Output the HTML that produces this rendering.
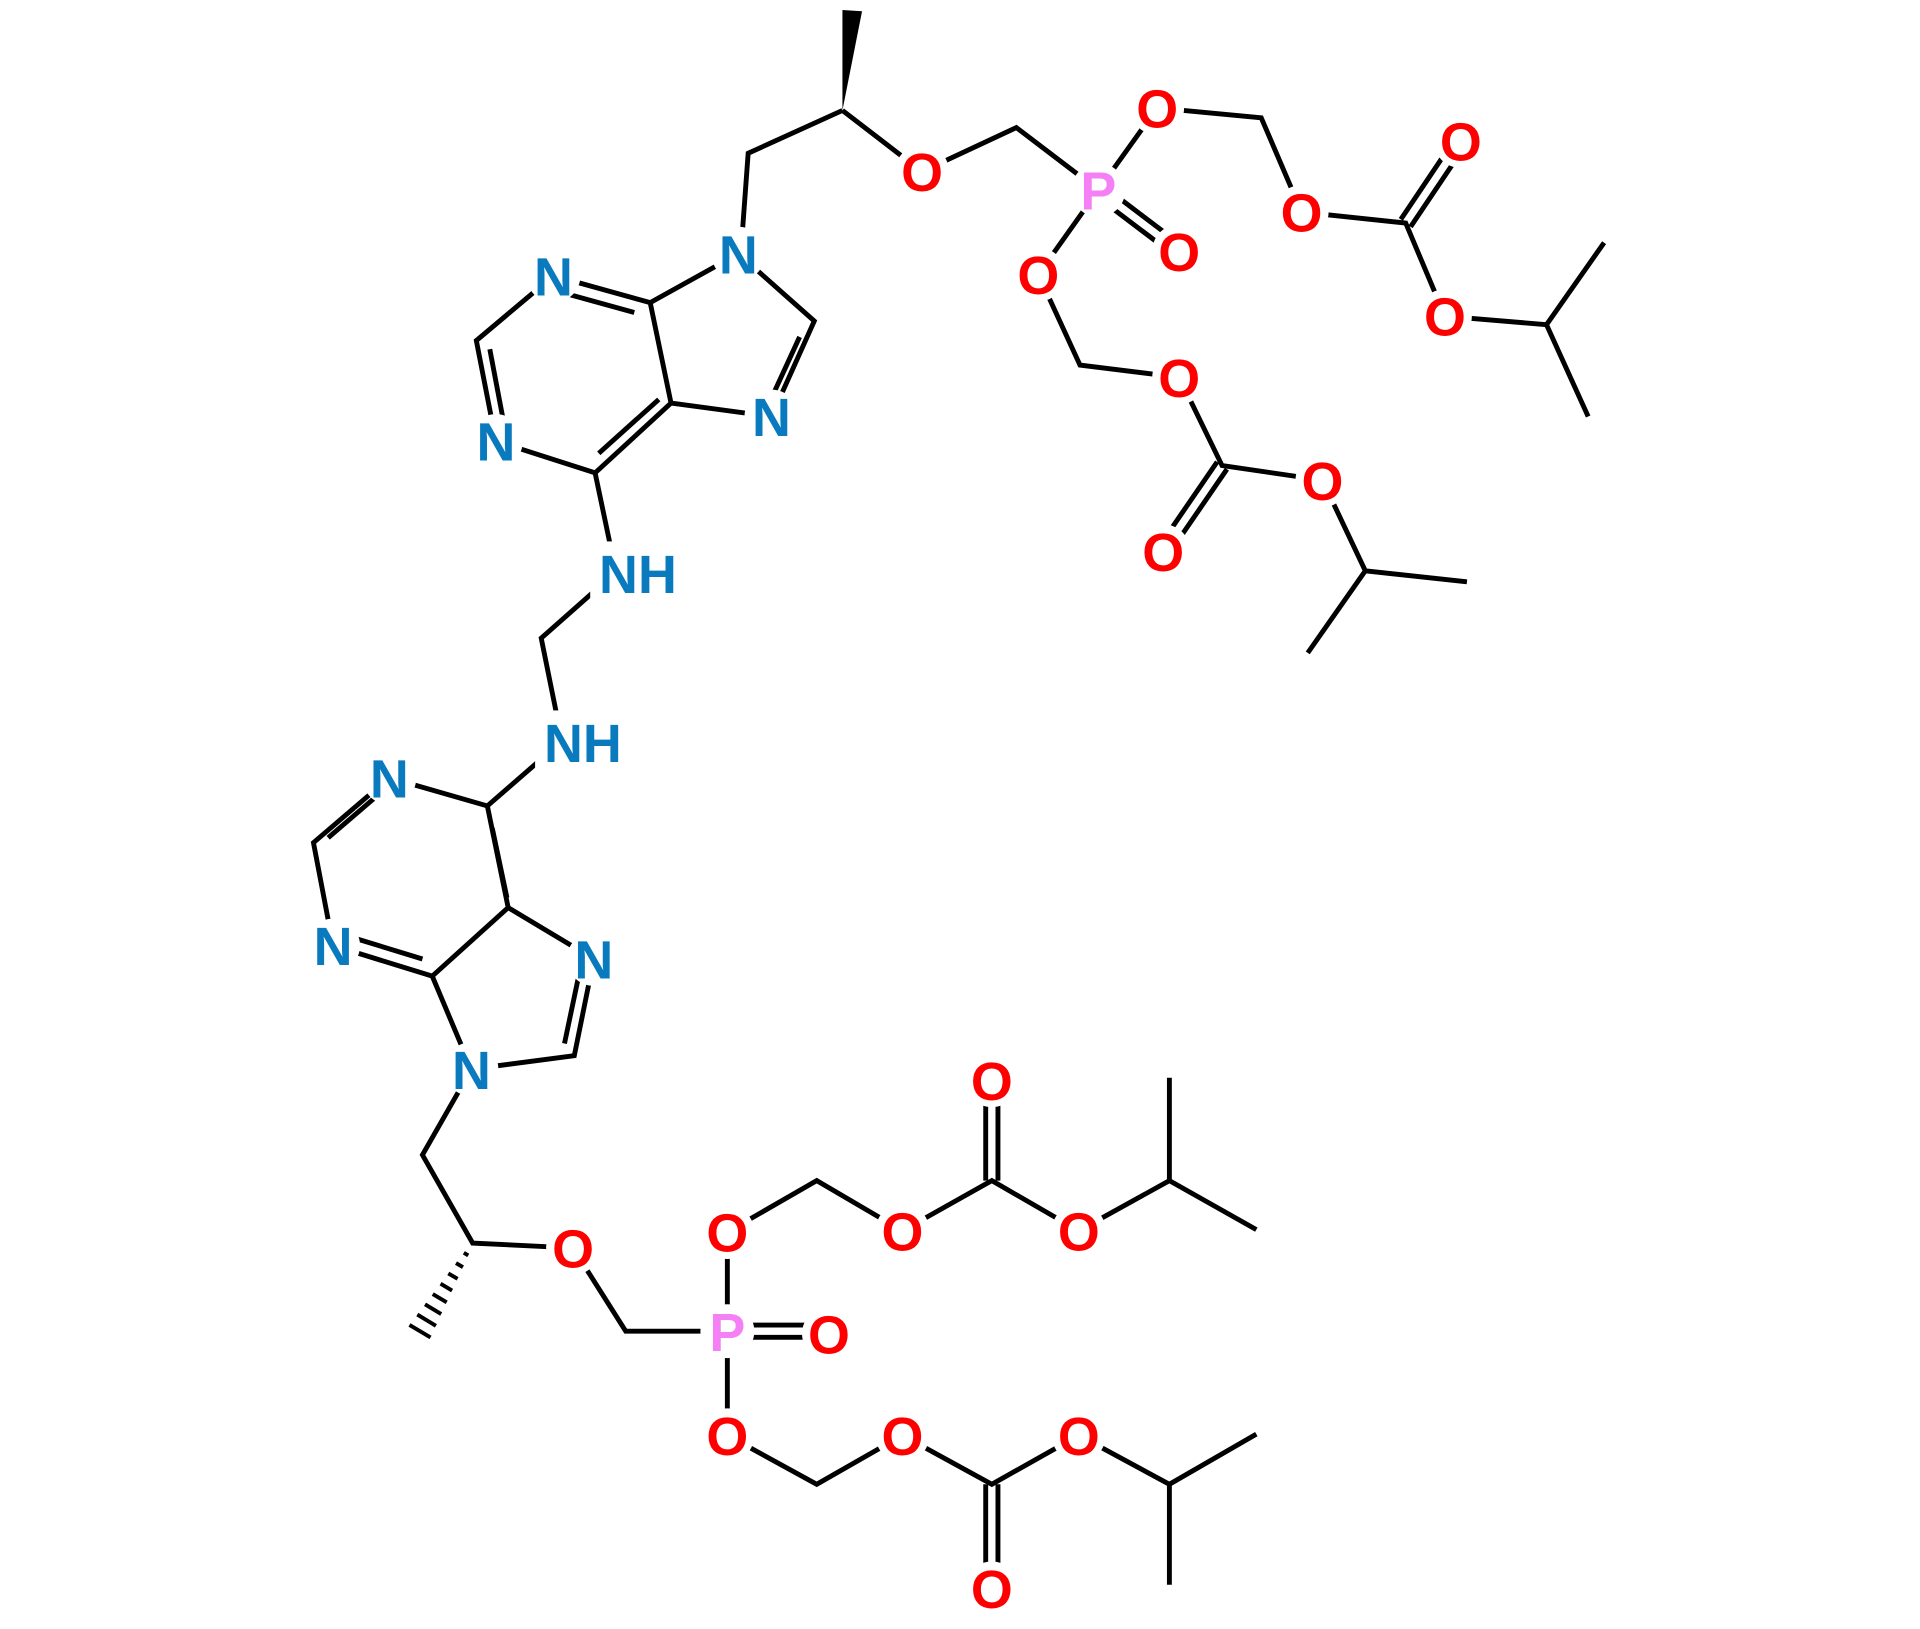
<!DOCTYPE html>
<html><head><meta charset="utf-8"><style>html,body{margin:0;padding:0;background:#fff}svg{display:block}</style></head>
<body>
<svg width="1920" height="1629" viewBox="0 0 1568 1330" xmlns="http://www.w3.org/2000/svg">
<rect width="1568" height="1330" fill="#fff"/>
<g stroke="#000" stroke-width="4" stroke-linecap="butt" fill="none">
<path d="M688 90 L611 125 L605 207"/>
<path d="M688 90 L753 140 L830 104 L897 155"/>
<path d="M897 155 L945 88 L1030 96 L1063 173 L1148 182 L1180 258 L1263 265 L1310 198"/>
<path d="M1263 265 L1297 340"/>
<path d="M894 159 L960 209 M900 151 L966 201"/>
<path d="M1152 185 L1197 118 M1144 179 L1189 112"/>
<path d="M897 155 L848 224 L882 298 L963 308 L998 380 L1080 392 L1115 466 L1198 475"/>
<path d="M1115 466 L1068 533"/>
<path d="M1002 383 L954 453 M994 377 L946 447"/>
<path d="M603 207 L665 262 L630 340 L548 329 L531 247 L603 207"/>
<path d="M653 275 L630 325"/>
<path d="M531 247 L452 225 L389 278 L405 360 L486 386 L548 329"/>
<path d="M518 255 L460 239"/>
<path d="M400 285 L411 343"/>
<path d="M489 370 L538 326"/>
<path d="M486 386 L503 467 L442 521 L459 605 L398 658"/>
<path d="M398 658 L318 635 L256 688 L272 772 L353 797 L415 741 L398 658"/>
<path d="M310 648 L268 684"/>
<path d="M283 764 L345 783"/>
<path d="M402 676 L414 733"/>
<path d="M415 741 L485 783 L469 862 L385 873 L353 797"/>
<path d="M473 795 L461 852"/>
<path d="M385 873 L345 943 L386 1015 L468 1019 L511 1087 L594 1087"/>
<path d="M594 1087 L594 1006 L667 964 L737 1005 L810 964 L881 1005 L955 964 L955 880"/>
<path d="M955 964 L1026 1004"/>
<path d="M805 964 L805 882 M815 964 L815 882"/>
<path d="M594 1082 L677 1082 M594 1092 L677 1092"/>
<path d="M594 1087 L594 1172 L667 1212 L737 1172 L810 1212 L881 1172 L955 1212 L1026 1171"/>
<path d="M955 1212 L955 1294"/>
<path d="M805 1212 L805 1297 M815 1212 L815 1297"/>
<g stroke-width="3.2">
<path d="M378.8 1022.9 L382.4 1025.1"/>
<path d="M372.4 1031.3 L378.1 1034.7"/>
<path d="M366.1 1039.8 L373.7 1044.2"/>
<path d="M359.8 1048.2 L369.2 1053.8"/>
<path d="M353.4 1056.6 L364.8 1063.4"/>
<path d="M347.1 1065.0 L360.3 1073.0"/>
<path d="M340.8 1073.4 L356 1082.6"/>
<path d="M334.4 1081.9 L351.6 1092.1"/>
</g>
</g>
<polygon points="688,90 688,8 704,9" fill="#000"/>
<g fill="#fff">
<circle cx="753" cy="140" r="22"/><circle cx="897" cy="155" r="22"/><circle cx="945" cy="88" r="22"/>
<circle cx="963" cy="205" r="22"/><circle cx="1063" cy="173" r="22"/><circle cx="1193" cy="115" r="22"/>
<circle cx="1180" cy="258" r="22"/><circle cx="848" cy="224" r="22"/><circle cx="963" cy="308" r="22"/>
<circle cx="950" cy="450" r="22"/><circle cx="1080" cy="392" r="22"/>
<circle cx="603" cy="207" r="22"/><circle cx="630" cy="340" r="22"/><circle cx="452" cy="225" r="22"/>
<circle cx="405" cy="360" r="22"/><rect x="482" y="442" width="78" height="50"/><rect x="437" y="580" width="78" height="50"/>
<circle cx="318" cy="635" r="22"/><circle cx="272" cy="772" r="22"/><circle cx="485" cy="783" r="22"/>
<circle cx="385" cy="873" r="22"/><circle cx="468" cy="1019" r="22"/><circle cx="594" cy="1087" r="22"/>
<circle cx="594" cy="1006" r="22"/><circle cx="737" cy="1005" r="22"/><circle cx="810" cy="882" r="22"/>
<circle cx="881" cy="1005" r="22"/><circle cx="677" cy="1089" r="22"/><circle cx="594" cy="1172" r="22"/>
<circle cx="737" cy="1172" r="22"/><circle cx="881" cy="1172" r="22"/><circle cx="810" cy="1297" r="22"/>
</g>
<g font-family="Liberation Sans, sans-serif" font-size="44" font-weight="bold" text-anchor="middle">
<g fill="#ff0000">
<text x="753" y="156">O</text><text x="945" y="104">O</text><text x="963" y="221">O</text>
<text x="1063" y="189">O</text><text x="1193" y="131">O</text><text x="1180" y="274">O</text>
<text x="848" y="240">O</text><text x="963" y="324">O</text><text x="950" y="466">O</text>
<text x="1080" y="408">O</text><text x="468" y="1035">O</text><text x="594" y="1022">O</text>
<text x="737" y="1021">O</text><text x="810" y="898">O</text><text x="881" y="1021">O</text>
<text x="677" y="1105">O</text><text x="594" y="1188">O</text><text x="737" y="1188">O</text>
<text x="881" y="1188">O</text><text x="810" y="1313">O</text>
</g>
<g fill="#f57ff5">
<text x="897" y="171">P</text><text x="594" y="1103">P</text>
</g>
<g fill="#0a7abf">
<text x="603" y="223">N</text><text x="630" y="356">N</text><text x="452" y="241">N</text>
<text x="405" y="376">N</text><text x="521" y="484">NH</text><text x="476" y="622">NH</text>
<text x="318" y="651">N</text><text x="272" y="788">N</text><text x="485" y="799">N</text>
<text x="385" y="889">N</text>
</g>
</g>
</svg>
</body></html>
